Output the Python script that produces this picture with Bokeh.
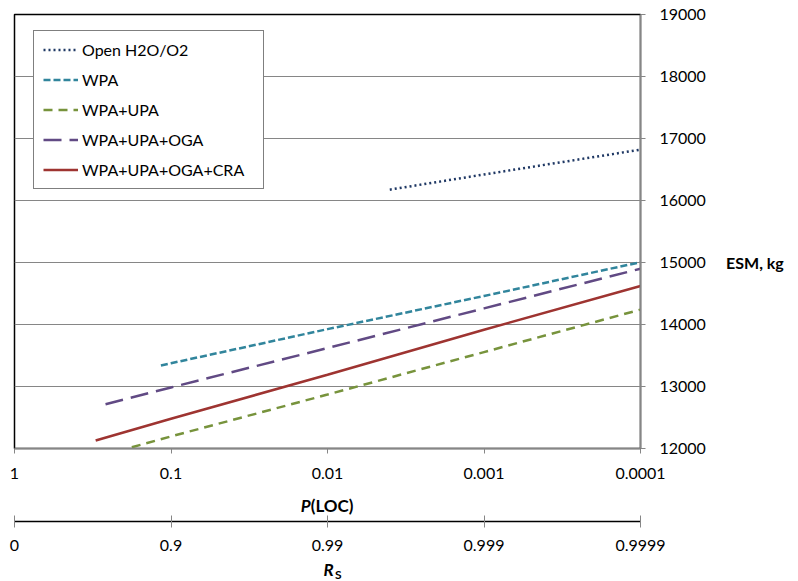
from bokeh.plotting import figure
from bokeh.models import Range1d, FixedTicker, LogAxis, Label, Legend, LegendItem
from bokeh.embed import file_html
from bokeh.resources import INLINE

# ---------------- data ----------------
series_names = ["Open H2O/O2", "WPA", "WPA+UPA", "WPA+UPA+OGA", "WPA+UPA+OGA+CRA"]

open_p = [0.004, 0.001, 0.0001]
open_esm = [16175, 16420, 16820]

wpa_p = [0.116, 0.1, 0.01, 0.001, 0.0001]
wpa_esm = [13340, 13375, 13925, 14460, 15005]

upa_p = [0.178, 0.1, 0.01, 0.001, 0.0001]
upa_esm = [12020, 12195, 12870, 13555, 14240]

oga_p = [0.262, 0.1, 0.01, 0.001, 0.0001]
oga_esm = [12715, 12985, 13620, 14260, 14900]

cra_p = [0.303, 0.1, 0.01, 0.001, 0.0001]
cra_esm = [12130, 12480, 13190, 13915, 14620]

p_ticks = [1, 0.1, 0.01, 0.001, 0.0001]
p_tick_labels = ["1", "0.1", "0.01", "0.001", "0.0001"]
rs_tick_labels = ["0", "0.9", "0.99", "0.999", "0.9999"]
esm_ticks = [12000, 13000, 14000, 15000, 16000, 17000, 18000, 19000]

FONT = "Lato"
GREY = "#868686"

p = figure(frame_width=626, frame_height=434,
           x_axis_type="log", x_range=Range1d(1, 0.0001),
           y_range=Range1d(12000, 19000), y_axis_location="right",
           output_backend="svg", toolbar_location=None,
           min_border_left=14, min_border_top=14,
           min_border_right=158, min_border_bottom=133)

p.background_fill_color = "white"
p.border_fill_color = "white"
p.outline_line_color = "black"
p.outline_line_width = 1.5

p.xgrid.visible = False
p.ygrid.grid_line_color = GREY
p.ygrid.grid_line_width = 1

# y axis (right)
ya = p.yaxis[0]
ya.ticker = FixedTicker(ticks=esm_ticks)
ya.minor_tick_line_color = None
ya.major_tick_in = 0
ya.major_tick_out = 5
ya.major_tick_line_color = GREY
ya.axis_line_color = GREY
ya.axis_line_width = 1.5
ya.major_label_text_font = FONT
ya.major_label_text_font_size = "16px"
ya.major_label_text_color = "black"
ya.major_label_standoff = 14

# x axis (P(LOC))
xa = p.xaxis[0]
xa.ticker = FixedTicker(ticks=p_ticks)
xa.major_label_overrides = {t: s for t, s in zip(p_ticks, p_tick_labels)}
xa.minor_tick_line_color = None
xa.major_tick_in = 0
xa.major_tick_out = 5
xa.major_tick_line_color = GREY
xa.axis_line_color = GREY
xa.axis_line_width = 1.5
xa.major_label_text_font = FONT
xa.major_label_text_font_size = "16px"
xa.major_label_text_color = "black"
xa.major_label_standoff = 14
xa.axis_label = " "
xa.axis_label_text_font_size = "24px"
xa.axis_label_standoff = 10

# second axis (R_S)
rs = LogAxis(ticker=FixedTicker(ticks=p_ticks))
rs.major_label_overrides = {t: s for t, s in zip(p_ticks, rs_tick_labels)}
rs.minor_tick_line_color = None
rs.major_tick_in = 6
rs.major_tick_out = 6
rs.major_tick_line_color = GREY
rs.axis_line_color = "black"
rs.axis_line_width = 1.5
rs.major_label_text_font = FONT
rs.major_label_text_font_size = "16px"
rs.major_label_text_color = "black"
rs.major_label_standoff = 12
p.add_layout(rs, "below")

# series
r0 = p.line(open_p, open_esm, line_color="#1F3864", line_width=2.5, line_dash="2 3")
r1 = p.line(wpa_p, wpa_esm, line_color="#31859C", line_width=2.5, line_dash="7 3")
r2 = p.line(upa_p, upa_esm, line_color="#77933C", line_width=2.5, line_dash="9 6")
r3 = p.line(oga_p, oga_esm, line_color="#614A84", line_width=2.5, line_dash="18 8")
r4 = p.line(cra_p, cra_esm, line_color="#9E3431", line_width=2.5)

legend = Legend(items=[LegendItem(label=n, renderers=[r]) for n, r in
                       zip(series_names, [r0, r1, r2, r3, r4])],
                location=(19, 259))
legend.border_line_color = "black"
legend.border_line_width = 1
legend.background_fill_color = "white"
legend.background_fill_alpha = 1
legend.padding = 9
legend.margin = 0
legend.spacing = 11
legend.glyph_width = 35
legend.glyph_height = 19
legend.label_height = 19
legend.label_width = 172
legend.label_standoff = 4
legend.label_text_font = FONT
legend.label_text_font_size = "16px"
legend.label_text_color = "black"
p.add_layout(legend)

# axis titles as labels placed in the side panels (not clipped to the frame)
def title_label(x, y, text, size, style, align, place):
    lbl = Label(x=x, y=y, x_units="data", y_units="data", text=text,
                text_font=FONT, text_font_size=size, text_font_style=style,
                text_baseline="middle", text_align=align, text_color="black")
    p.add_layout(lbl, place)

title_label(2.84e-5, 15000, "ESM, kg", "16px", "bold", "left", "right")
title_label(0.0128, 11081, "P", "17px", "bold italic", "right", "below")
title_label(0.0128, 11081, "(LOC)", "17px", "bold", "left", "below")
title_label(0.00913, 10048, "R", "17px", "bold italic", "right", "below")
title_label(0.00895, 9968, "S", "12px", "bold", "left", "below")

open("out.html", "w").write(file_html(p, INLINE))
